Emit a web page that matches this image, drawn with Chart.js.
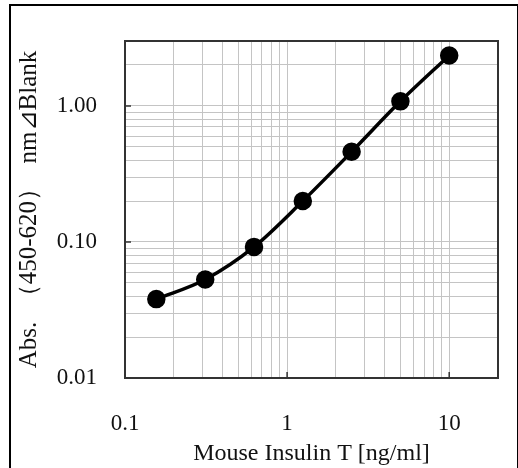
<!DOCTYPE html>
<html>
<head>
<meta charset="utf-8">
<script src="https://cdn.jsdelivr.net/npm/chart.js@4/dist/chart.umd.min.js"></script>
<style>
  html, body { margin: 0; padding: 0; background: #fff; }
  #wrap { position: relative; width: 518px; height: 468px; }
  #frame { position: absolute; left: 9px; top: 4px; width: 510px; height: 480px; border: 2px solid #000; box-sizing: border-box; }
  canvas { position: absolute; left: 0; top: 0; }
</style>
</head>
<body>
<div id="wrap">
  <div id="frame"></div>
  <canvas id="curveChart" width="518" height="468"></canvas>
</div>
<script>
// ---------------- DATA -----------------------------
const concentrations = [0.156, 0.3125, 0.625, 1.25, 2.5, 5, 10];
const absorbance = [0.038, 0.053, 0.092, 0.20, 0.46, 1.08, 2.35];

const xTickLabels = [0.1, 1, 10];
const yTickLabels = [0.01, 0.1, 1];
const xRange = [0.1, 20];
const yRange = [0.01, 3];

// gridlines at 1..9 of every decade inside the range
function logGrid(min, max) {
  const out = [];
  for (let d = min; d < max * 1.0001; d *= 10) {
    for (let k = 1; k <= 9; k++) {
      const v = d * k;
      if (v <= max * 1.0001) out.push(v);
    }
  }
  return out;
}

const isLabel = (list, v) => list.some((t) => Math.abs(v - t) / t < 1e-6);

const serif = "'Liberation Serif', 'DejaVu Serif', serif";

// dark frame round the plot area, with short inward ticks at the labelled values
const plotFrame = {
  id: "plotFrame",
  afterDraw(chart) {
    const { ctx, chartArea: a, scales } = chart;
    ctx.save();
    ctx.strokeStyle = "#333";
    ctx.lineWidth = 2;
    ctx.strokeRect(a.left, a.top, a.right - a.left, a.bottom - a.top);
    ctx.lineWidth = 1.5;
    ctx.beginPath();
    xTickLabels.forEach((v) => {
      const px = scales.x.getPixelForValue(v);
      ctx.moveTo(px, a.bottom);
      ctx.lineTo(px, a.bottom - 6);
    });
    yTickLabels.forEach((v) => {
      const py = scales.y.getPixelForValue(v);
      ctx.moveTo(a.left, py);
      ctx.lineTo(a.left + 6, py);
    });
    ctx.stroke();
    ctx.restore();
  },
};

const curveData = {
  datasets: [
    {
      data: concentrations.map((c, i) => ({ x: c, y: absorbance[i] })),
      borderColor: "#000",
      backgroundColor: "#000",
      borderWidth: 3.5,
      pointRadius: 7.5,
      pointHoverRadius: 7.5,
      cubicInterpolationMode: "monotone",
    },
  ],
};

const curveConfig = {
  type: "line",
  data: curveData,
  plugins: [plotFrame],
  options: {
    responsive: false,
    animation: false,
    layout: { padding: { left: 14, right: 20, top: 41, bottom: 0 } },
    plugins: { legend: { display: false }, tooltip: { enabled: false } },
    scales: {
      x: {
        type: "logarithmic",
        min: xRange[0],
        max: xRange[1],
        afterBuildTicks: (s) => { s.ticks = logGrid(xRange[0], xRange[1]).map((v) => ({ value: v })); },
        afterFit: (s) => { s.height = 90; s.paddingLeft = 0; s.paddingRight = 0; },
        grid: { color: "#c4c4c4", lineWidth: 1, drawTicks: false },
        border: { display: false },
        ticks: {
          autoSkip: false,
          maxRotation: 0,
          padding: 32,
          color: "#111",
          font: { family: serif, size: 23 },
          callback: (v) => (isLabel(xTickLabels, v) ? String(v) : ""),
        },
        title: {
          display: true,
          text: "Mouse Insulin T [ng/ml]",
          color: "#111",
          font: { family: serif, size: 24 },
          padding: { top: 0, bottom: 0 },
        },
      },
      y: {
        type: "logarithmic",
        min: yRange[0],
        max: yRange[1],
        afterBuildTicks: (s) => { s.ticks = logGrid(yRange[0], yRange[1]).map((v) => ({ value: v })); },
        afterFit: (s) => { s.width = 111; s.paddingTop = 0; s.paddingBottom = 0; },
        grid: { color: "#c4c4c4", lineWidth: 1, drawTicks: false },
        border: { display: false },
        ticks: {
          autoSkip: false,
          padding: 28,
          color: "#111",
          font: { family: serif, size: 23 },
          callback: (v) => (isLabel(yTickLabels, v) ? v.toFixed(2) : ""),
        },
        title: {
          display: true,
          text: "Abs.  （450-620）  nm⊿Blank",
          color: "#111",
          font: { family: serif, size: 25 },
          padding: { top: 0, bottom: 0 },
        },
      },
    },
  },
};

// RENDER THE CHART
const curveChart = new Chart(document.getElementById("curveChart"), curveConfig);
</script>
</body>
</html>
